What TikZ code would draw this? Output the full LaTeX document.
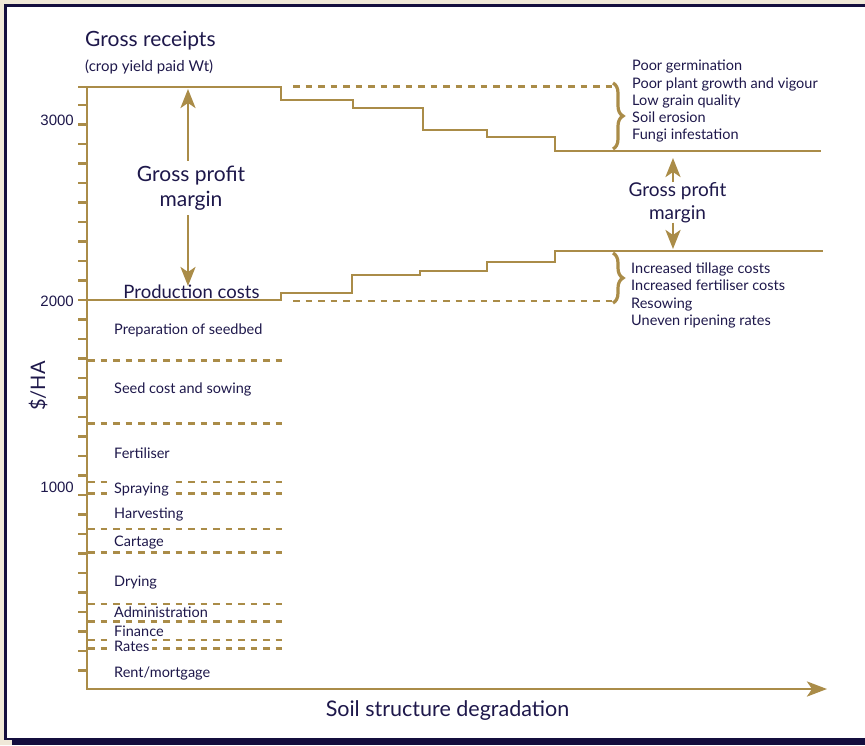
\documentclass[tikz,border=0pt]{standalone}
\usepackage{fontspec}
\setmainfont{Lato}
\newfontfamily\numfont{Liberation Sans}
\usetikzlibrary{arrows.meta,decorations.pathreplacing,calc}

\definecolor{gold}{RGB}{170,140,72}
\definecolor{inkblue}{RGB}{30,24,75}
\definecolor{framenavy}{RGB}{20,14,62}
\definecolor{paper}{RGB}{240,232,216}

\tikzset{
	goldline/.style={draw=gold, line width=2.8pt},
	golddash/.style={draw=gold, line width=2.8pt, dash pattern=on 6.5pt off 6pt},
	axisline/.style={goldline, -{Stealth[length=20pt,width=15pt,inset=5pt]}},
	gpmarrow/.style={goldline, -{Stealth[length=19pt,width=15pt,inset=5pt]}},
	tickmark/.style={draw=gold, line width=2.5pt},
	txt/.style={text=inkblue, inner sep=0pt},
	costlabel/.style={txt, anchor=base west, inner xsep=3pt, font=\fontsize{14.5}{17}\selectfont},
	cover/.style={fill=white, inner ysep=2.2pt},
	plain/.style={},
	listlabel/.style={txt, anchor=base west, font=\fontsize{14.5}{17}\selectfont},
	bracemark/.style={draw=gold, line width=3.2pt, decorate, decoration={brace, amplitude=10pt}}
}

\begin{document}
\begin{tikzpicture}[x=1pt,y=-1pt]
	\useasboundingbox (0,0) rectangle (865,745);
	\clip (0,0) rectangle (865,745);
	\fill[paper] (0,0) rectangle (865,745);
	\filldraw[fill=white, draw=framenavy, line width=2.5pt] (5.5,5.5) rectangle (885,739);
	\fill[framenavy] (12,738.5) rectangle (865,745);

	\coordinate (ytop) at (87,87);
	\coordinate (origo) at (87,689);
	\coordinate (xend) at (827,689);

	\foreach \k in {0,...,29}
		\draw[tickmark] (78,105+19.5*\k) -- ++(8,0);

	\draw[axisline] (ytop) -- (origo) -- (xend);

	\foreach \v/\y in {3000/120, 2000/301, 1000/487}
		\node[txt, anchor=east, font=\numfont\fontsize{15}{18}\selectfont] (lab\v) at (74,\y) {\v};

	\node[txt, rotate=90, font=\fontsize{20}{24}\selectfont] (yname) at (38,386) {\$/HA};
	\node[txt, font=\fontsize{21.5}{25}\selectfont] (xname) at (447.5,711) {Soil structure degradation};

	\node[txt, anchor=base west, font=\fontsize{21}{25}\selectfont] (rcpt) at (85,46.5) {Gross receipts};
	\node[txt, anchor=base west, font=\fontsize{15}{18}\selectfont] (rcptnote) at (85,71.5) {(crop yield paid Wt)};

	% receipts and production costs
	\draw[goldline] (78,87) -| (281,100) -| (353,108) -| (423,130) -| (487,137) -| (555,151) -- (821,151) coordinate (rcptend);
	\draw[goldline] (87,300) -| (281,293) -| (352,275) -| (420,271) -| (487,262) -| (555,251) -- (823,251) coordinate (costend);

	\draw[golddash] (293,86.5) -- (613,86.5) coordinate (bracetop);
	\draw[golddash] (293,301) -- (613,301) coordinate (bracebot);

	\draw[bracemark] (bracetop |- 0,83) -- (613,149);
	\draw[bracemark] (613,253) -- (bracebot |- 0,303);

	\foreach \y in {360.7, 423.3, 482, 493.3, 529, 552.7, 604, 621.7, 640, 648.3}
		\draw[golddash] (88,\y) -- (283,\y);

	\foreach \y/\t/\s [count=\i] in {334.3/Preparation of seedbed/plain, 393.3/Seed cost and sowing/plain,
			458.3/Fertiliser/plain, 493.3/Spraying/cover, 518.3/Harvesting/plain, 546.7/Cartage/plain,
			586/Drying/plain, 617.3/Administration/plain, 636.3/Finance/plain, 651/Rates/cover,
			677.7/{Rent/mortgage}/plain}
		\node[costlabel, \s] (cost\i) at (111,\y) {\t};

	% gross profit margin
	\node[txt, align=center, inner ysep=5pt, font=\fontsize{21}{25}\selectfont] (gpm) at (191,188) {Gross profit\\margin};
	\coordinate (gpmtop) at (188,89);
	\coordinate (gpmbot) at (188,286);
	\draw[gpmarrow] (gpm.north -| gpmtop) -- (gpmtop);
	\draw[gpmarrow] (gpm.south -| gpmbot) -- (gpmbot);

	\node[txt, anchor=base, font=\fontsize{18.5}{22}\selectfont] (prod) at (191.5,298) {Production costs};

	\node[txt, align=center, font=\fontsize{19}{22.5}\selectfont] (gpmr) at (677.5,202.5) {Gross profit\\margin};
	\coordinate (gpmrtop) at (673,158);
	\coordinate (gpmrbot) at (673,249);
	\draw[gpmarrow] (gpmr.north -| gpmrtop) -- (gpmrtop);
	\draw[gpmarrow] (gpmr.south -| gpmrbot) -- (gpmrbot);

	\foreach \t [count=\i] in {Poor germination, Poor plant growth and vigour, Low grain quality, Soil erosion, Fungi infestation}
		\node[listlabel] (loss\i) at (632,53.4+17.3*\i) {\t};
	\foreach \t [count=\i] in {Increased tillage costs, Increased fertiliser costs, Resowing, Uneven ripening rates}
		\node[listlabel] (extra\i) at (631,256+17.4*\i) {\t};
\end{tikzpicture}
\end{document}
